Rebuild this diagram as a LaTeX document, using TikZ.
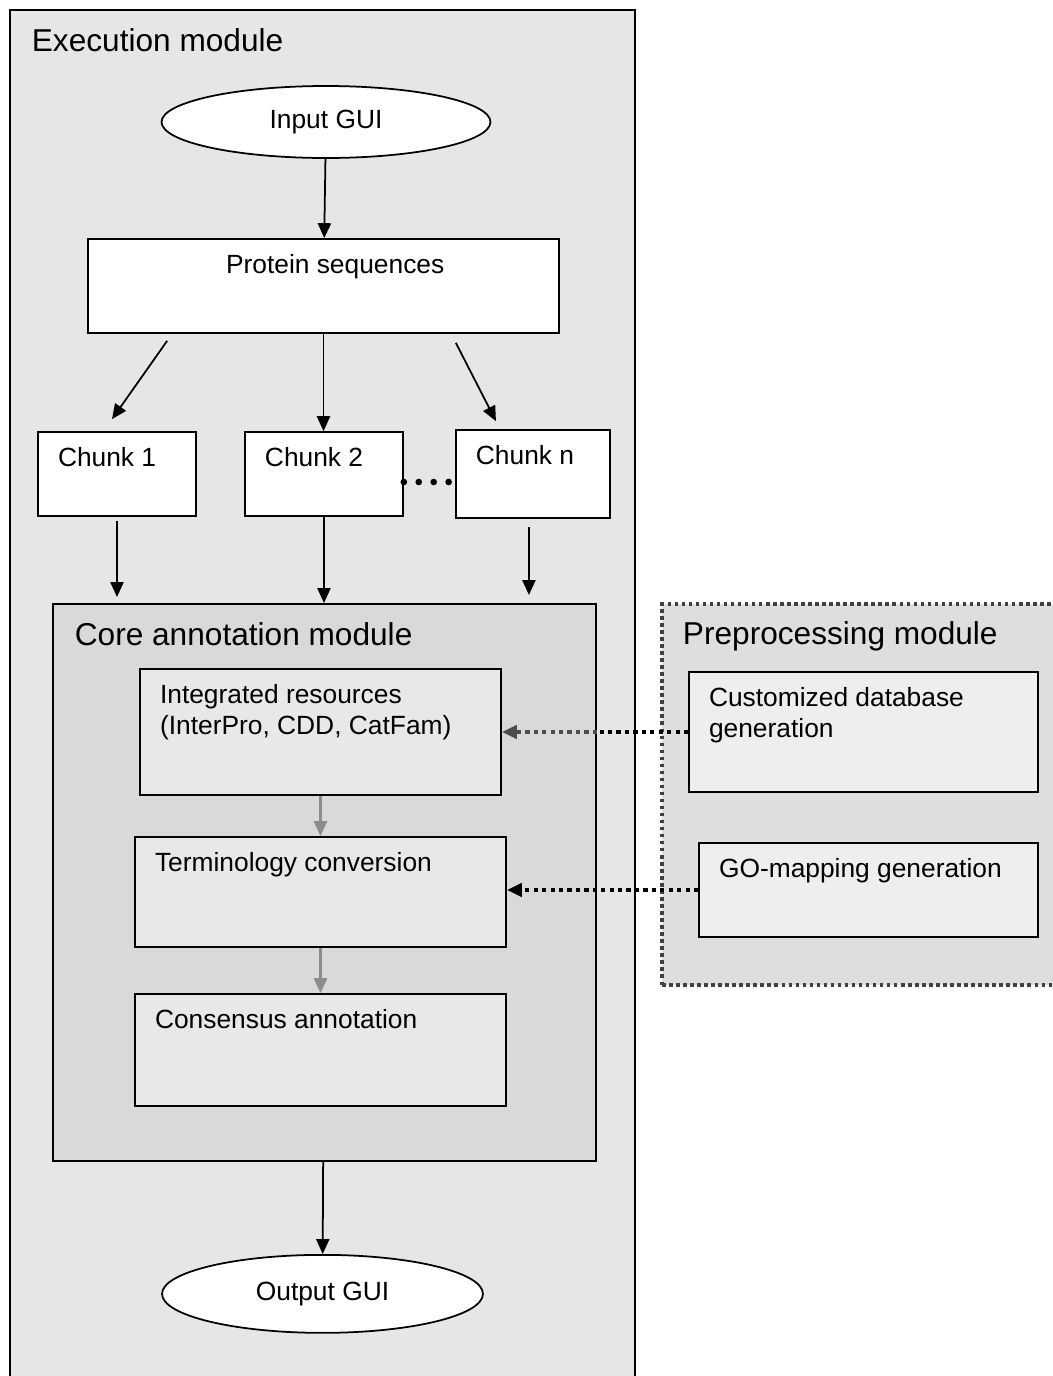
\documentclass[tikz,border=0pt]{standalone}
\usepackage{fontspec}
\setmainfont{Liberation Sans}
\usetikzlibrary{shapes.geometric, arrows.meta, positioning}

\definecolor{execfill}{HTML}{E6E6E6}
\definecolor{corefill}{HTML}{D9D9D9}
\definecolor{prefill}{HTML}{DEDEDE}
\definecolor{stepfill}{HTML}{E8E8E8}
\definecolor{genfill}{HTML}{EEEEEE}

\begin{document}
\begin{tikzpicture}[x=0.02cm, y=-0.02cm,
                    line width=1pt, >={Triangle[length=8.5pt,width=7.5pt]},
                    box/.style={rectangle, draw, fill=white, inner sep=0pt},
                    module/.style={rectangle, draw, inner sep=0pt, line width=1.2pt},
                    oval/.style={ellipse, draw, fill=white, inner sep=0pt, font=\fontsize{15}{18}\selectfont},
                    chunk/.style={box, minimum width=3.16cm, minimum height=1.68cm},
                    lbltext/.style={anchor=base west, inner sep=0pt, font=\fontsize{15}{18}\selectfont, yshift=-0.7cm},
                    txt/.style={label={[lbltext, xshift=0.4cm]north west:#1}},
                    txtb/.style={label={[lbltext, xshift=0.4cm, yshift=-0.62cm]north west:#1}},
                    modtitle/.style={label={[anchor=base west, inner sep=0pt, font=\fontsize{18}{22}\selectfont, xshift=0.44cm, yshift=-0.84cm]north west:#1}},
                    dotlink/.style={line width=2.6pt, dash pattern=on 2.4pt off 2.4pt},
                    dotrow/.style={line width=3.8pt, line cap=round, dash pattern=on 0pt off 8.5pt},
                    grayarrow/.style={draw=black!45, line width=1.2pt}]

\useasboundingbox (0,0) rectangle (1052,1376);

% Nodes
\node[module, fill=execfill, minimum width=12.5cm, minimum height=27.6cm, modtitle=Execution module] (exec) at (322.5,700) {};
\node[oval, minimum width=6.58cm, minimum height=1.44cm] (input) at (326,122) {Input GUI};
\node[box, minimum width=9.42cm, minimum height=1.88cm, below=1.585cm of input, xshift=-0.05cm,
      label={[lbltext, xshift=2.76cm]north west:Protein sequences}] (protein) {};
\node[chunk, txt=Chunk 1] (chunk1) at (117,474) {};
\node[chunk, right=0.945cm of chunk1, txt=Chunk 2] (chunk2) {};
\node[box, minimum width=3.08cm, minimum height=1.76cm, right=1.025cm of chunk2, txt=Chunk n] (chunkn) {};

\node[module, fill=corefill, minimum width=10.86cm, minimum height=11.14cm, modtitle=Core annotation module] (core) at (324.5,882.5) {};
\node[box, fill=stepfill, minimum width=7.22cm, minimum height=2.52cm, txt=Integrated resources, txtb={(InterPro, CDD, CatFam)}] (ires) at (320.5,732) {};
\node[box, fill=stepfill, minimum width=7.42cm, minimum height=2.2cm, below=0.805cm of ires, txt=Terminology conversion] (term) {};
\node[box, fill=stepfill, minimum width=7.42cm, minimum height=2.24cm, below=0.905cm of term, txt=Consensus annotation] (cons) {};
\node[oval, minimum width=6.42cm, minimum height=1.56cm, below=1.84cm of core, xshift=-0.04cm] (output) {Output GUI};

\node[rectangle, fill=prefill, draw=black!75, line width=2.2pt, dash pattern=on 2pt off 2pt,
      minimum width=8.16cm, minimum height=7.62cm, modtitle=Preprocessing module] (pre) at (866,794.5) {};
\node[box, fill=genfill, minimum width=6.98cm, minimum height=2.4cm, txt=Customized database, txtb=generation] (custdb) at (863.5,732) {};
\node[box, fill=genfill, minimum width=6.78cm, minimum height=1.88cm, below=0.985cm of custdb, xshift=0.1cm, txt=GO-mapping generation] (gomap) {};

% Edges
\draw[->] (input) -- (protein);
\draw[->] ([shift={(80,7)}]protein.south west) -- ([shift={(-5,-12)}]chunk1.north);
\draw[->] (protein.south) -- (protein.south |- chunk2.north);
\draw[->] ([shift={(-104,9)}]protein.south east) -- ([shift={(-37,-8)}]chunkn.north);
\draw[dotrow] ([yshift=-0.16cm]chunk2.east) -- ([yshift=-0.16cm]chunkn.west);
\draw[->, shorten <=0.08cm, shorten >=0.12cm] (chunk1.south) -- (chunk1.south |- core.north);
\draw[->] (chunk2.south) -- (chunk2.south |- core.north);
\draw[->, shorten <=0.16cm, shorten >=0.16cm] ([xshift=-0.08cm]chunkn.south) -- ([xshift=-0.08cm]chunkn.south |- core.north);
\draw[->, grayarrow] (ires) -- (term);
\draw[->, grayarrow] (term) -- (cons);
\draw[->] (core) -- (output);
\draw[dotlink] (custdb.west) -- (custdb.west -| core.east);
\draw[dotlink, ->, draw=black!70] (custdb.west -| core.east) -- (ires.east);
\draw[dotlink, ->] (gomap.west) -- (gomap.west -| term.east);

\end{tikzpicture}
\end{document}
